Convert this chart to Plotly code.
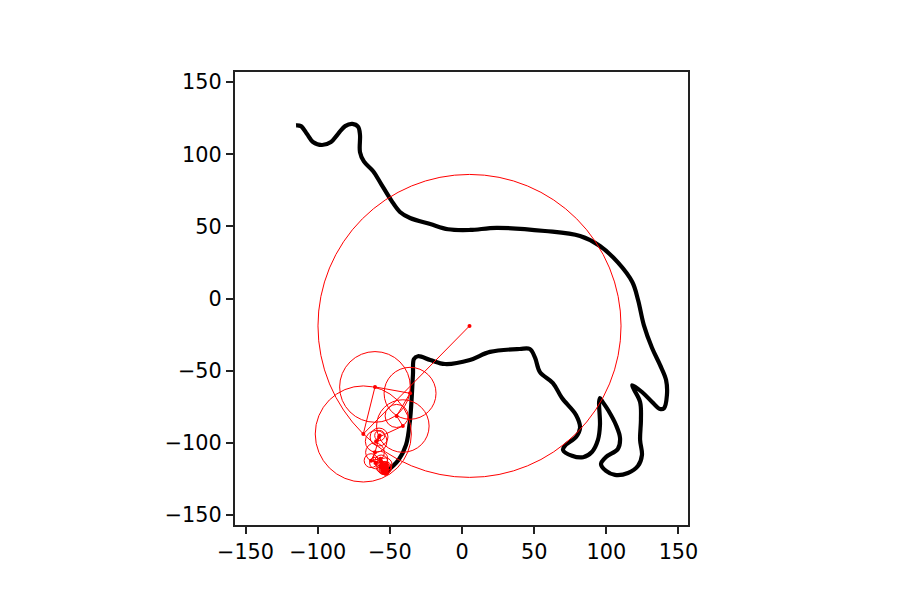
import plotly.graph_objects as go

# Black outline
outline_x = [-115, -111.6, -107.4, -103.3, -97, -90.8, -86, -81, -76, -72, -70.7, -70.7, -68, -61.7, -56, -49, -43, -36,
             -22, -9.7, 5.5, 24, 57.5, 81.8, 95.6, 108, 118, 122, 126, 131.7, 137.2, 141.4, 142, 140, 137.2, 131.7,
             124.7, 118, 119, 123.4, 124, 123.4, 124.7, 122, 115, 106, 99.8, 96.3, 99.8, 108, 109.5, 106.7, 101.2,
             97, 95.6, 95, 95.6, 94.2, 90, 83.9, 76.2, 70, 71.4, 79, 81.8, 79, 69.3, 63, 54, 50.6, 47, 40, 19.4,
             5.5, -11.8, -22, -30.5, -33.3, -34, -36, -38.8, -44, -53.4]
outline_y = [120, 119.5, 114, 108.5, 106.4, 108.5, 114, 119.5, 121, 119, 113.5, 101.5, 95, 88.4, 79.3, 68, 60, 55.8,
             51.6, 48, 47.5, 49, 46.8, 43.3, 36.4, 25, 11.4, -1, -18.4, -34.3, -46, -56.5, -67, -76, -76.6, -71.7,
             -64.8, -60, -62.7, -71.7, -84, -98, -108.5, -116, -121, -122.3, -119.5, -114.7, -109.8, -104.3, -96.7,
             -87.7, -77.3, -71, -69, -71.7, -87.7, -98, -106.4, -110, -109, -105, -102, -96, -89.7, -80.7, -69, -58.6,
             -51, -41, -35, -35, -37, -42.6, -45.4, -42.6, -40, -42, -53, -84, -101.5, -112, -121]

# Epicycle chain: centre of each circle and its radius
chain_x = [5.2, -68.4, -60.3, -36, -45.3, -41, -57.5, -59.5, -57, -60.3, -63, -56.5, -60, -56, -54, -56, -53, -55,
           -53, -54.5, -52.5, -54, -53, -55, -53.5, -54, -52.5, -53.5, -54.5, -53, -52.5, -54]
chain_y = [-19, -93.9, -61.3, -65.7, -81.4, -88.4, -96, -99, -95, -106.6, -112.4, -111, -114, -113, -116, -117, -115,
           -118, -117, -119, -118, -116, -120, -119, -118, -117.5, -119, -118.5, -115.5, -121, -116, -120]
chain_r = [105, 33.3, 24.5, 18, 8, 18.2, 6.2, 7.5, 3.5, 6.5, 4.8, 5, 4, 4.5, 3, 3.5, 4.5, 3.5,
           4, 3, 3.5, 2.5, 2.5, 2, 2.5, 1.5, 1.5, 1, 1.5, 1.5, 2, 1]

x_range = [-157.3, 156.6]
y_range = [-157, 157]
tick_vals = [-150, -100, -50, 0, 50, 100, 150]

fig = go.Figure()
fig.add_trace(go.Scatter(x=outline_x, y=outline_y, mode="lines",
                         line=dict(color="black", width=4.2, shape="spline", smoothing=1.0),
                         hoverinfo="skip"))
fig.add_trace(go.Scatter(x=chain_x, y=chain_y, mode="lines+markers",
                         line=dict(color="red", width=1),
                         marker=dict(color="red", size=4),
                         hoverinfo="skip"))

shapes = [dict(type="circle", xref="x", yref="y",
               x0=cx - r, x1=cx + r, y0=cy - r, y1=cy + r,
               line=dict(color="red", width=1), fillcolor="rgba(0,0,0,0)", layer="above")
          for cx, cy, r in zip(chain_x, chain_y, chain_r)]

axis = dict(showgrid=False, zeroline=False, showline=True, mirror=True, linecolor="#222222", linewidth=1.5,
            ticks="outside", ticklen=7.3, tickwidth=1.5, tickcolor="#222222",
            tickvals=tick_vals, tickfont=dict(family="DejaVu Sans", size=20.8, color="black"))

fig.update_layout(width=900, height=600, showlegend=False, paper_bgcolor="white", plot_bgcolor="white",
                  margin=dict(l=227, r=220, t=64, b=83), shapes=shapes,
                  xaxis=dict(axis, range=x_range), yaxis=dict(axis, range=y_range))
fig.write_html("out.html", config={"displayModeBar": False})
